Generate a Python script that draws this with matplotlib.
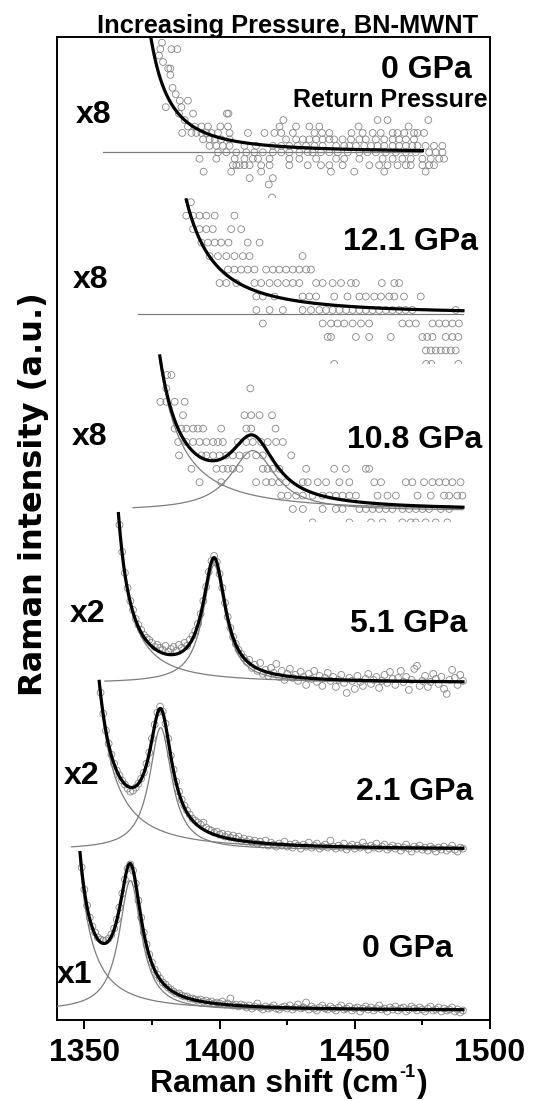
import numpy as np
import matplotlib.pyplot as plt
from matplotlib.patches import Rectangle
from matplotlib.ticker import MultipleLocator

plt.rcParams['font.family'] = ['Liberation Sans', 'DejaVu Sans']
plt.rcParams['font.weight'] = 'bold'

# ---------------- data ----------------
# heights are in a.u. above each spectrum's own baseline

# 0 GPa (x1), sampled every 1 cm-1
s1_shift = np.arange(1349, 1491)
s1_int = [143, 121, 105, 93, 84, 78, 73, 71, 70, 70,
          72, 76, 82, 91, 103, 117, 131, 142, 146, 140,
          127, 110, 93, 78, 66, 56, 48, 41, 36, 32,
          28, 26, 23, 21, 19, 17, 17, 15, 14, 14,
          12, 12, 11, 10, 11, 9, 10, 8, 9, 7,
          8, 7, 9, 6, 7, 12, 5, 6, 4, 6,
          5, 3, 5, 2, 4, 7, 3, 1, 4, 2,
          3, 5, 2, 1, 3, 4, 2, 5, 1, 3,
          6, 2, 3, 8, 1, 4, 2, 0, 3, 5,
          2, 1, 4, 2, 0, 3, 5, 1, 2, 4,
          0, 2, 3, -1, 2, 4, 1, 3, 0, 2,
          5, 1, 2, -1, 3, 1, 4, 0, 2, 3,
          -1, 1, 4, 2, 0, 3, 1, -1, 2, 4,
          0, 1, 3, -1, 2, 0, 1, 3, -1, 1,
          -2, 0]

# 2.1 GPa (x2)
s2_shift = np.arange(1356, 1491)
s2_int = [157, 136, 119, 106, 95, 86, 79, 74, 69, 65,
          61, 58, 59, 62, 66, 71, 77, 86, 97, 111,
          125, 137, 143, 138, 126, 111, 94, 80, 68, 58,
          50, 44, 39, 35, 31, 29, 27, 25, 27, 22,
          20, 19, 17, 18, 15, 16, 13, 15, 12, 14,
          11, 13, 9, 11, 8, 10, 7, 9, 6, 8,
          5, 9, 4, 7, 5, 3, 6, 4, 8, 3,
          5, 2, 6, 4, 1, 5, 3, 7, 2, 4,
          6, 1, 3, 5, 2, 9, 3, 1, 4, 2,
          6, 0, 3, 5, 1, 4, 2, 7, 3, 0,
          4, 2, 6, 1, 3, 5, 0, 2, 4, 1,
          3, -1, 2, 5, 1, -2, 3, 1, 4, 0,
          2, -1, 3, 1, -2, 2, 0, 3, -1, 1,
          4, 0, -2, 2, 1]

# 5.1 GPa (x2)
s3_shift = np.arange(1363, 1491)
s3_int = [158, 131, 110, 95, 82, 73, 64, 58, 53, 48,
          45, 43, 40, 36, 38, 35, 33, 37, 31, 34,
          36, 32, 38, 35, 40, 37, 43, 47, 52, 59,
          69, 82, 96, 111, 122, 127, 121, 109, 95, 80,
          66, 55, 46, 39, 33, 29, 25, 21, 23, 15,
          18, 12, 20, 9, 13, 7, 15, 10, 19, 6,
          12, 3, 9, 14, 5, 8, 2, 11, 6, -2,
          9, 4, 12, 1, 7, -3, 5, 10, 2, 6,
          -4, 3, 8, 0, -10, 5, 2, -6, 7, 1,
          -3, 4, 9, -1, 3, 6, -5, 2, 8, 0,
          11, 4, -2, 5, 12, 1, 6, -7, 3, 14,
          17, -3, 2, 7, -4, 1, 9, 4, -1, 6,
          -6, -11, 3, 13, 5, -2, 8, 2]

# 10.8 GPa (x8): counts are quantised, one count = s4_step
s4_step, s4_zero = 13.4, 1.6
s4_counts = [10, 9, 8, 7, 6, 5, 4, 3, 2, 1, 0, -1]
s4_shift = [
    [1380.6, 1382.2],
    [1380.3, 1411.4],
    [1378.1, 1380.3, 1383.4, 1387.1],
    [1386.5, 1409.2, 1411.7, 1414.8, 1419.4],
    [1383.4, 1385.9, 1387.7, 1390.2, 1392.0, 1393.9, 1400.6, 1409.9, 1411.7, 1420.7],
    [1384.7, 1387.7, 1390.2, 1392.6, 1395.1, 1397.6, 1399.4, 1401.2, 1406.8, 1409.9,
     1412.3, 1415.4, 1417.8, 1420.9, 1423.4],
    [1385.0, 1393.3, 1395.1, 1397.6, 1400.0, 1402.5, 1404.9, 1407.4, 1409.9, 1413.5,
     1416.0, 1426.5],
    [1389.6, 1398.8, 1401.2, 1403.1, 1404.9, 1407.4, 1416.0, 1417.8, 1419.7, 1422.1,
     1432.0, 1442.4, 1446.7, 1454.1, 1455.3],
    [1392.6, 1400.6, 1413.5, 1417.2, 1419.4, 1422.1, 1424.6, 1430.8, 1432.6, 1436.3,
     1439.4, 1444.3, 1448.0, 1457.2, 1459.7, 1468.9, 1471.3, 1475.6, 1478.7, 1481.2,
     1483.6, 1486.1, 1489.1],
    [1422.8, 1425.2, 1428.3, 1430.8, 1434.4, 1438.1, 1440.6, 1443.0, 1445.5, 1448.0,
     1450.4, 1458.4, 1462.1, 1465.2, 1473.2, 1478.1, 1483.0, 1484.9, 1487.9, 1489.8],
    [1427.1, 1430.8, 1438.1, 1443.0, 1445.5, 1451.7, 1454.1, 1456.6, 1459.0, 1461.5,
     1463.9, 1467.6, 1470.1, 1472.6, 1475.0, 1477.5, 1481.8, 1484.9],
    [1434.4, 1448.0, 1456.0, 1460.3, 1467.6, 1470.7, 1472.6, 1476.2, 1479.9, 1484.2],
]

# 12.1 GPa (x8)
s5_step, s5_zero = 13.48, 4.0
s5_counts = [8, 7, 6, 5, 4, 3, 2, 1, 0, -1, -2, -3, -4]
s5_shift = [
    [1389.4],
    [1387.7, 1390.2, 1392.6, 1395.1, 1398.2, 1405.5],
    [1390.2, 1392.6, 1395.1, 1397.5, 1404.3, 1408.0],
    [1393.3, 1395.7, 1398.2, 1400.6, 1403.3, 1410.4, 1414.8],
    [1396.3, 1399.4, 1402.5, 1405.5, 1408.6, 1411.1, 1430.7],
    [1403.1, 1405.5, 1408.0, 1410.4, 1412.9, 1417.2, 1419.7, 1422.1, 1424.6, 1427.1,
     1429.5, 1432.0, 1433.8],
    [1400.0, 1402.5, 1406.2, 1412.9, 1415.4, 1418.5, 1421.5, 1424.6, 1427.1, 1429.5,
     1435.7, 1438.1, 1441.8, 1444.9, 1448.6, 1450.4, 1460.0, 1464.6, 1466.4],
    [1413.6, 1416.0, 1420.3, 1430.7, 1433.2, 1435.7, 1442.4, 1447.3, 1451.7, 1454.1,
     1457.2, 1459.7, 1462.7, 1464.6, 1468.2, 1474.4],
    [1413.6, 1418.5, 1423.4, 1430.7, 1433.8, 1436.9, 1439.4, 1441.8, 1444.3, 1446.8,
     1449.2, 1451.7, 1454.1, 1456.6, 1459.0, 1461.5, 1463.9, 1466.4, 1468.8, 1471.3,
     1487.3],
    [1416.0, 1438.1, 1441.2, 1443.6, 1446.1, 1449.2, 1452.3, 1455.3, 1467.6, 1470.1,
     1472.6, 1478.7, 1481.2, 1483.6, 1486.1, 1488.5],
    [1440.0, 1441.2, 1450.4, 1455.3, 1463.3, 1475.0, 1476.8, 1478.7, 1483.6, 1486.1,
     1488.3],
    [1476.3, 1478.1, 1479.9, 1481.8, 1483.6, 1485.5, 1487.3],
    [1442.4, 1476.4, 1478.3, 1488.3],
]

# 0 GPa return pressure (x8)
s6_step, s6_zero = 6.45, 0.0
s6_counts = [17, 16, 15, 14, 13, 12, 10, 9, 8, 7, 6, 5, 4, 3, 2, 1, 0,
             -1, -2, -3, -4, -5, -7]
s6_shift = [
    [1378.7],
    [1378.1, 1382.2, 1384.4],
    [1377.6],
    [1379.1],
    [1381.0, 1381.8],
    [1381.8],
    [1382.6],
    [1383.8],
    [1385.3, 1388.3],
    [1380.1, 1385.9],
    [1385.0, 1390.2, 1402.7, 1403.3],
    [1387.1, 1423.6, 1458.4, 1462.1, 1477.2],
    [1388.3, 1390.8, 1393.3, 1395.7, 1400.3, 1403.1, 1422.2, 1428.3, 1433.2, 1436.9,
     1451.4, 1469.9],
    [1386.2, 1389.6, 1391.4, 1393.3, 1395.1, 1397.0, 1399.4, 1403.7, 1410.5, 1416.6,
     1420.3, 1422.8, 1427.1, 1435.1, 1437.9, 1440.6, 1448.8, 1452.9, 1456.6, 1459.6,
     1464.0, 1465.8, 1468.3, 1471.9, 1473.2, 1475.6],
    [1393.9, 1396.3, 1398.2, 1400.6, 1403.7, 1424.6, 1428.3, 1430.8, 1433.2, 1435.7,
     1438.1, 1440.6, 1442.4, 1445.5, 1448.6, 1451.7, 1454.1, 1457.8, 1460.9, 1464.0,
     1466.4, 1468.9, 1471.9],
    [1396.3, 1398.8, 1401.2, 1403.7, 1409.2, 1413.5, 1419.7, 1422.8, 1425.8, 1428.9,
     1432.0, 1435.1, 1438.1, 1443.1, 1446.1, 1448.0, 1450.4, 1453.5, 1456.0, 1458.4,
     1460.9, 1464.0, 1466.4, 1468.9, 1471.3, 1473.2, 1476.2, 1479.3, 1482.4],
    [1399.4, 1402.5, 1406.2, 1409.9, 1412.9, 1416.0, 1419.7, 1422.8, 1425.8, 1429.5,
     1432.6, 1434.4, 1437.5, 1440.6, 1443.7, 1447.4, 1451.7, 1454.7, 1457.8, 1461.5,
     1465.2, 1468.9, 1472.6, 1477.5, 1479.9, 1482.4],
    [1392.6, 1398.8, 1405.6, 1409.2, 1412.3, 1414.2, 1418.5, 1425.8, 1429.5, 1435.7,
     1443.1, 1446.1, 1451.7, 1460.3, 1464.0, 1467.6, 1470.7, 1475.0, 1478.1, 1481.2,
     1483.0],
    [1404.9, 1406.2, 1407.4, 1409.2, 1411.1, 1415.4, 1418.5, 1425.8, 1432.6, 1437.5,
     1440.6, 1445.5, 1455.4, 1459.0, 1462.1, 1465.8, 1468.9, 1470.7, 1475.0, 1477.5,
     1479.3],
    [1394.1, 1404.3, 1415.4, 1441.2, 1449.8, 1460.9, 1476.2],
    [1411.1, 1419.7],
    [1418.2],
    [1419.4],
]

# stacking offsets (baselines) and fitted band parameters
labels = ['0 GPa', '2.1 GPa', '5.1 GPa', '10.8 GPa', '12.1 GPa', '0 GPa']
factors = ['x1', 'x2', 'x2', 'x8', 'x8', 'x8']
baselines = [9.5, 170.4, 337.1, 509.4, 706.0, 867.7]
# tail of the low-frequency band: centre, strength
tail_pos = [1339.0, 1343.7, 1353.3, 1361.6, 1366.8, 1360.6]
tail_str = [13330, 22800, 14610, 40000, 50000, 22615]
# BN band: centre, half width, height (None = not fitted)
peak_pos = [1367.0, 1378.2, 1398.0, 1412.3, None, None]
peak_hw = [5.0, 5.0, 5.0, 10.0, None, None]
peak_amp = [130, 122, 118, 60, None, None]
fit_start = [1348.4, 1355.5, 1362.6, 1377.9, 1387.7, 1372.0]
fit_end = [1490, 1490, 1490, 1490, 1490, 1475]
comp_start = [1340.0, 1345.3, 1357.6, 1368.0, 1370.0, 1356.9]
# lower clip of each data set (the spectra were cut off below)
clip_low = [None, None, None, 497.6, 656.1, 822.5]


def tail(x, c, k):
    return k / ((x - c) ** 2 + 1.0)


def band(x, c, w, a):
    return a * w ** 2 / ((x - c) ** 2 + w ** 2)


fig = plt.figure(figsize=(5.34, 11.01), dpi=100)
ax = fig.add_axes([57.3 / 534, 81 / 1101, 432.7 / 534, 983 / 1101])
ax.set_xlim(1340, 1500)
ax.set_ylim(0, 983)

pt_kw = dict(s=24, facecolors='none', edgecolors='#858585', linewidths=0.6, zorder=2)
gray = '#7d7d7d'

# scatter data
dense = [(s1_shift, s1_int), (s2_shift, s2_int), (s3_shift, s3_int)]
for i, (xs, hs) in enumerate(dense):
    ax.scatter(xs, baselines[i] + np.array(hs), **pt_kw)

quant = [(s4_shift, s4_counts, s4_step, s4_zero),
         (s5_shift, s5_counts, s5_step, s5_zero),
         (s6_shift, s6_counts, s6_step, s6_zero)]
for j, (rows, counts, step, zero) in enumerate(quant):
    i = j + 3
    xs, ys = [], []
    for row, n in zip(rows, counts):
        xs += row
        ys += [baselines[i] + zero + n * step] * len(row)
    sc = ax.scatter(xs, ys, **pt_kw)
    clip = Rectangle((1330, clip_low[i]), 180, 1000, transform=ax.transData)
    sc.set_clip_path(clip)

# fitted curves
for i in range(6):
    b = baselines[i]
    xf = np.linspace(fit_start[i], fit_end[i], 600)
    t = tail(xf, tail_pos[i], tail_str[i])
    if peak_pos[i] is not None:
        xc = np.linspace(comp_start[i], fit_end[i], 600)
        ax.plot(xc, b + band(xc, peak_pos[i], peak_hw[i], peak_amp[i]),
                color=gray, lw=0.9, zorder=3)
        ax.plot(xf, b + t, color=gray, lw=0.9, zorder=3)
        total = t + band(xf, peak_pos[i], peak_hw[i], peak_amp[i])
    else:
        ax.plot([comp_start[i], fit_end[i]], [b, b], color=gray, lw=0.9, zorder=3)
        total = t
    ax.plot(xf, b + total, color='black', lw=2.3, zorder=4)

# axes styling
for sp in ax.spines.values():
    sp.set_linewidth(1.4)
ax.xaxis.set_major_locator(MultipleLocator(50))
ax.xaxis.set_minor_locator(MultipleLocator(25))
ax.tick_params(axis='x', which='major', direction='out', length=6.7, width=1.4,
               labelsize=23, pad=6.5)
ax.tick_params(axis='x', which='minor', direction='out', length=3.6, width=1.4)
ax.tick_params(axis='y', left=False, labelleft=False)
for lab in ax.get_xticklabels():
    lab.set_fontweight('bold')


def ftext(px, py, s, size=23, ha='center'):
    return fig.text(px / 534, 1 - py / 1101, s, ha=ha, va='baseline',
                    fontsize=size, fontweight='bold')


ftext(287.7, 33, 'Increasing Pressure, BN-MWNT', size=18.3)
ftext(426.8, 78.3, labels[5])
ftext(390.4, 106.7, 'Return Pressure', size=18)
ftext(93.4, 123.3, factors[5])
ftext(410.2, 250, labels[4])
ftext(90.4, 288.3, factors[4])
ftext(89.5, 445, factors[3])
ftext(415, 448.3, labels[3])
ftext(87.5, 621.7, factors[2])
ftext(408.3, 631.7, labels[2])
ftext(81.7, 784, factors[1])
ftext(415, 800, labels[1])
ftext(74.8, 983.4, factors[0])
ftext(407.7, 956.7, labels[0])

# x label with a small superscript
renderer = fig.canvas.get_renderer()
xl = ftext(150, 1092, 'Raman shift (cm', ha='left')
bb = xl.get_window_extent(renderer)
sup = ftext(bb.x1 + 1, 1077, '-1', size=13, ha='left')
bb2 = sup.get_window_extent(renderer)
ftext(bb2.x1 + 1, 1092, ')', ha='left')

fig.text(41.7 / 534, 1 - 494 / 1101, 'Raman intensity (a.u.)', rotation=90,
         rotation_mode='anchor', ha='center', va='baseline',
         family=['DejaVu Sans'], fontsize=23, fontweight='bold')

fig.savefig('out.png', dpi=100)
